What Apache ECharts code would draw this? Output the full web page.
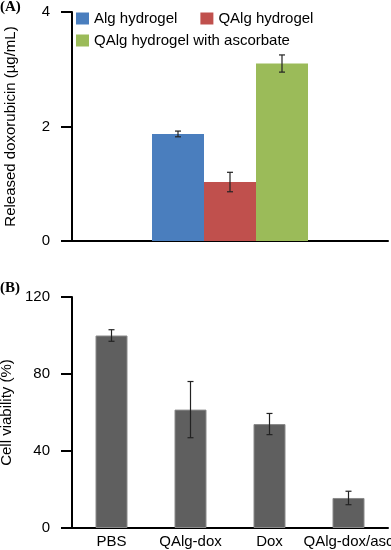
<!DOCTYPE html>
<html>
<head>
<meta charset="utf-8">
<script src="https://cdn.jsdelivr.net/npm/echarts@6/dist/echarts.min.js"></script>
<style>
  html, body { margin: 0; padding: 0; background: #fff; }
  #chart { width: 391px; height: 550px; }
</style>
</head>
<body>
<div id="chart"></div>
<script>
// panel A data: released doxorubicin
var releaseNames = ['Alg hydrogel', 'QAlg hydrogel', 'QAlg hydrogel with ascorbate'];
var releaseMean = [1.87, 1.03, 3.1];
var releaseErr = [0.05, 0.17, 0.15];
var releaseColors = ['#4a7ebe', '#c0504d', '#9bbb59'];

// panel B data: cell viability
var viabilityCats = ['PBS', 'QAlg-dox', 'Dox', 'QAlg-dox/asc'];
var viabilityMean = [100, 61.5, 54, 15.6];
var viabilityErr = [3, 14.6, 5.5, 3.5];

var FONT = '"Liberation Sans", Arial, sans-serif';
var BAR_A = 52;

var chart = echarts.init(document.getElementById('chart'));

function errorBar(offset) {
    return function (params, api) {
        var x = api.coord([api.value(0), 0])[0] + offset;
        var lo = api.coord([api.value(0), api.value(1)])[1];
        var hi = api.coord([api.value(0), api.value(2)])[1];
        var st = { stroke: '#222', lineWidth: 1.2 };
        return {
            type: 'group',
            children: [
                { type: 'line', shape: { x1: x, y1: lo, x2: x, y2: hi }, style: st },
                { type: 'line', shape: { x1: x - 3, y1: lo, x2: x + 3, y2: lo }, style: st },
                { type: 'line', shape: { x1: x - 3, y1: hi, x2: x + 3, y2: hi }, style: st }
            ]
        };
    };
}

var series = [];
releaseNames.forEach(function (n, i) {
    series.push({
        name: n, type: 'bar', xAxisIndex: 0, yAxisIndex: 0,
        barWidth: BAR_A, barGap: '0%',
        itemStyle: { color: releaseColors[i] },
        data: [releaseMean[i]]
    });
});
releaseNames.forEach(function (n, i) {
    series.push({
        type: 'custom', xAxisIndex: 0, yAxisIndex: 0, z: 5,
        renderItem: errorBar((i - 1) * BAR_A),
        encode: { x: 0, y: [1, 2] },
        data: [[0, releaseMean[i] - releaseErr[i], releaseMean[i] + releaseErr[i]]]
    });
});
series.push({
    type: 'bar', xAxisIndex: 1, yAxisIndex: 1, barWidth: 32,
    itemStyle: { color: '#5f5f5f', borderColor: '#8a8a8a', borderWidth: 1 },
    data: viabilityMean
});
series.push({
    type: 'custom', xAxisIndex: 1, yAxisIndex: 1, z: 5,
    renderItem: errorBar(0),
    encode: { x: 0, y: [1, 2] },
    data: viabilityMean.map(function (v, i) { return [i, v - viabilityErr[i], v + viabilityErr[i]]; })
});

var axisLine = { show: true, lineStyle: { color: '#000', width: 2 } };

var option = {
    animation: false,
    textStyle: { fontFamily: FONT },
    title: [
        { text: '(A)', left: 0, top: 0, padding: 0,
          textStyle: { fontFamily: '"Liberation Serif", serif', fontWeight: 'bold', fontSize: 15, color: '#000' } },
        { text: '(B)', left: 0, top: 281, padding: 0,
          textStyle: { fontFamily: '"Liberation Serif", serif', fontWeight: 'bold', fontSize: 15, color: '#000' } }
    ],
    legend: [
        { data: releaseNames.slice(0, 2), left: 76, top: 11, padding: 0, itemGap: 23,
          itemWidth: 13, itemHeight: 12, icon: 'rect', selectedMode: false,
          textStyle: { fontSize: 15, color: '#000', fontFamily: FONT } },
        { data: releaseNames.slice(2), left: 76, top: 33, padding: 0,
          itemWidth: 13, itemHeight: 12, icon: 'rect', selectedMode: false,
          textStyle: { fontSize: 15, color: '#000', fontFamily: FONT } }
    ],
    grid: [
        { left: 72, right: 3, top: 12, height: 229, outerBoundsMode: 'none', containLabel: false },
        { left: 72, right: 3, top: 297, height: 231, outerBoundsMode: 'none', containLabel: false }
    ],
    xAxis: [
        { type: 'category', gridIndex: 0, data: [''], axisLine: axisLine,
          axisTick: { show: false }, axisLabel: { show: false } },
        { type: 'category', gridIndex: 1, data: viabilityCats, axisLine: axisLine,
          axisTick: { show: false },
          axisLabel: { color: '#000', fontSize: 15, margin: 6, interval: 0, hideOverlap: false, fontFamily: FONT } }
    ],
    yAxis: [
        { type: 'value', gridIndex: 0, min: 0, max: 4, interval: 2,
          name: 'Released doxorubicin (\u00b5g/mL)', nameLocation: 'middle', nameGap: 54,
          nameTextStyle: { color: '#000', fontSize: 15, fontFamily: FONT },
          axisLine: axisLine, splitLine: { show: false },
          axisTick: { show: true, length: 11, lineStyle: { color: '#000', width: 2 } },
          axisLabel: { color: '#000', fontSize: 15, margin: 22, fontFamily: FONT } },
        { type: 'value', gridIndex: 1, min: 0, max: 120, interval: 40,
          name: 'Cell viability (%)', nameLocation: 'middle', nameGap: 54,
          nameTextStyle: { color: '#000', fontSize: 15, fontFamily: FONT },
          axisLine: axisLine, splitLine: { show: false },
          axisTick: { show: true, length: 11, lineStyle: { color: '#000', width: 2 } },
          axisLabel: { color: '#000', fontSize: 15, margin: 22, fontFamily: FONT } }
    ],
    series: series
};

chart.setOption(option);
</script>
</body>
</html>
